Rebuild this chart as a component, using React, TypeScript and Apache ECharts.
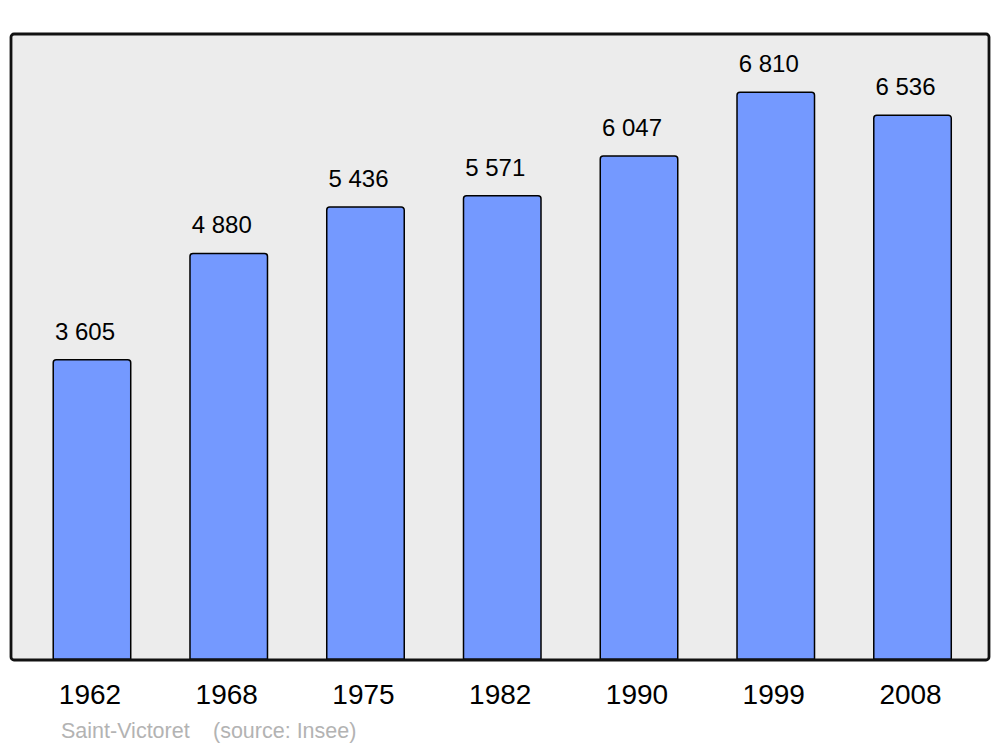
import React, { useEffect, useRef } from "react";
import * as echarts from "echarts";

const years = ["1962", "1968", "1975", "1982", "1990", "1999", "2008"];
const population = [3605, 4880, 5436, 5571, 6047, 6810, 6536];
const townName = "Saint-Victoret";
const sourceText = "(source: Insee)";

const FONT = "'Liberation Sans', Arial, Helvetica, sans-serif";

function formatPop(v: number): string {
  const s = String(v);
  return s.replace(/\B(?=(\d{3})+(?!\d))/g, " ");
}

export default function App() {
  const ref = useRef<HTMLDivElement>(null);
  useEffect(() => {
    if (!ref.current) return;
    const chart = echarts.init(ref.current, null, { renderer: "svg" });
    chart.setOption({
      animation: false,
      backgroundColor: "#ffffff",
      grid: { left: 23.6, top: 34, width: 957.3, height: 626, containLabel: false },
      xAxis: {
        type: "category",
        data: years,
        axisLine: { show: false },
        axisTick: { show: false },
        axisLabel: {
          color: "#000",
          fontSize: 28,
          fontFamily: FONT,
          margin: 20,
          padding: [0, 4, 0, 0],
        },
      },
      yAxis: {
        type: "value",
        min: 0,
        max: 7500,
        show: false,
        splitLine: { show: false },
      },
      graphic: [
        {
          type: "rect",
          z: -10,
          shape: { x: 11, y: 34, width: 978, height: 626, r: 3 },
          style: { fill: "#ececec", stroke: "none" },
        },
        {
          type: "rect",
          z: 100,
          shape: { x: 11, y: 34, width: 978, height: 626, r: 3 },
          style: { fill: "none", stroke: "#111", lineWidth: 2.8 },
        },
        {
          type: "text",
          left: 61,
          top: 720,
          style: { text: townName, fill: "#b3b3b3", fontSize: 21.5, fontFamily: FONT },
        },
        {
          type: "text",
          left: 213,
          top: 720,
          style: { text: sourceText, fill: "#b3b3b3", fontSize: 21.5, fontFamily: FONT },
        },
      ],
      series: [
        {
          type: "bar",
          data: population,
          barWidth: 79,
          itemStyle: {
            color: "#7499ff",
            borderColor: "#000",
            borderWidth: 1.5,
            borderRadius: [3, 3, 0, 0],
          },
          label: {
            show: true,
            position: "top",
            distance: 16,
            offset: [-7, 0],
            color: "#000",
            fontSize: 24,
            fontFamily: FONT,
            formatter: (p: any) => formatPop(p.value),
          },
        },
      ],
    });
    return () => chart.dispose();
  }, []);
  return (
    <div
      ref={ref}
      style={{ position: "absolute", left: 0, top: 0, width: 1000, height: 747 }}
    />
  );
}
